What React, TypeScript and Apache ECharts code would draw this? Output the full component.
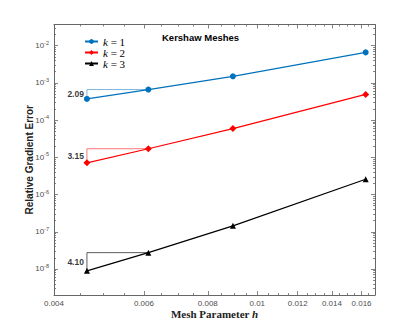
import React, { useEffect, useRef } from "react";
import * as echarts from "echarts";

const hValues = [0.00464, 0.00612, 0.00896, 0.0163];
const errK1 = [3.7e-4, 6.6e-4, 1.5e-3, 6.6e-3];
const errK2 = [7.1e-6, 1.7e-5, 5.9e-5, 4.9e-4];
const errK3 = [8.9e-9, 2.75e-8, 1.44e-7, 2.57e-6];
const rates = ["2.09", "3.15", "4.10"];
const seriesNames = ["k = 1", "k = 2", "k = 3"];
const xMajorTicks = [0.004, 0.006, 0.008, 0.01, 0.012, 0.014, 0.016];
const yMajorTicks = [1e-8, 1e-7, 1e-6, 1e-5, 1e-4, 1e-3, 1e-2];

const xMinorTicks: number[] = [];
for (let i = 8; i <= 34; i++) {
  if (i % 4 !== 0) xMinorTicks.push(+(i * 0.0005).toFixed(4));
}
const yMinorTicks: number[] = [];
for (let p = -9; p <= -2; p++) {
  for (let m = 2; m <= 9; m++) {
    const v = m * Math.pow(10, p);
    if (v >= 2e-9 && v <= 0.037) yMinorTicks.push(v);
  }
}

const X_MIN = 0.004, X_MAX = 0.017, Y_MIN = 2e-9, Y_MAX = 0.037;
const AXIS_COLOR = "#666666";
const LABEL_COLOR = "#4d4d4d";

export default function App() {
  const ref = useRef<HTMLDivElement>(null);
  useEffect(() => {
    if (!ref.current) return;
    const chart = echarts.init(ref.current, undefined, { renderer: "svg" });
    const colors = ["#0072BD", "#FF0000", "#000000"];
    const triColors = ["#5AA0D6", "#FF5050", "#333333"];
    const symbols = ["circle", "diamond", "triangle"];
    const errs = [errK1, errK2, errK3];

    const mkX = (pos: "bottom" | "top", ticks: number[], len: number, labels: boolean, line: boolean, name?: any) => ({
      type: "log",
      position: pos,
      min: X_MIN,
      max: X_MAX,
      logBase: 10,
      axisLine: { show: line, onZero: false, lineStyle: { color: AXIS_COLOR, width: 1 } },
      axisTick: { show: true, inside: true, length: len, customValues: ticks, lineStyle: { color: AXIS_COLOR, width: 0.8 } },
      axisLabel: {
        show: labels,
        customValues: ticks,
        color: LABEL_COLOR,
        fontSize: 8,
        fontFamily: "Liberation Sans",
        margin: 4,
        formatter: (v: number) => String(+(+v).toFixed(4)),
      },
      splitLine: { show: false },
      minorTick: { show: false },
      ...(name || {}),
    });
    const mkY = (pos: "left" | "right", ticks: number[], len: number, labels: boolean, line: boolean, name?: any) => ({
      type: "log",
      position: pos,
      min: Y_MIN,
      max: Y_MAX,
      logBase: 10,
      axisLine: { show: line, onZero: false, lineStyle: { color: AXIS_COLOR, width: 1 } },
      axisTick: { show: true, inside: true, length: len, customValues: ticks, lineStyle: { color: AXIS_COLOR, width: 0.8 } },
      axisLabel: {
        show: labels,
        customValues: ticks,
        color: LABEL_COLOR,
        margin: 5,
        formatter: (v: number) => `{b|10}{s|${Math.round(Math.log10(v))}}`,
        rich: {
          b: { fontSize: 8, fontFamily: "Liberation Sans", color: LABEL_COLOR },
          s: { fontSize: 5.5, fontFamily: "Liberation Sans", color: LABEL_COLOR, padding: [0, 0, 6, 0] },
        },
      },
      splitLine: { show: false },
      minorTick: { show: false },
      ...(name || {}),
    });

    const series: any[] = [];
    errs.forEach((e, i) => {
      series.push({
        name: seriesNames[i],
        type: "line",
        data: hValues.map((h, j) => [h, e[j]]),
        color: colors[i],
        symbol: symbols[i],
        symbolSize: i === 1 ? 7 : 6,
        lineStyle: { width: 1.2, color: colors[i] },
        itemStyle: { color: colors[i] },
        z: 5,
      });
      series.push({
        name: "tri" + i,
        type: "line",
        data: [
          [hValues[0], e[0]],
          [hValues[0], e[1]],
          [hValues[1], e[1]],
        ],
        symbol: "none",
        lineStyle: { width: 0.8, color: triColors[i] },
        z: 3,
      });
      series.push({
        name: "rate" + i,
        type: "scatter",
        data: [[hValues[0], Math.sqrt(e[0] * e[1])]],
        symbolSize: 0,
        label: {
          show: true,
          position: "left",
          distance: 3,
          formatter: () => rates[i],
          fontSize: 8.5,
          fontWeight: "bold",
          fontFamily: "Liberation Sans",
          color: "#000",
        },
        z: 4,
      });
    });

    chart.setOption({
      animation: false,
      grid: { left: 54, right: 40, top: 24.5, bottom: 37 },
      title: {
        text: "Kershaw Meshes",
        left: 162,
        top: 32,
        padding: 0,
        textStyle: { fontSize: 9.5, fontWeight: "bold", fontFamily: "Liberation Sans", color: "#000" },
      },
      legend: {
        data: seriesNames,
        orient: "vertical",
        left: 84,
        top: 36,
        padding: 0,
        itemWidth: 13,
        itemHeight: 6,
        itemGap: 0,
        formatter: (n: string) => `{i|k}{t|${n.slice(1)}}`,
        textStyle: {
          rich: {
            i: { fontFamily: "Liberation Serif", fontStyle: "italic", fontSize: 11, lineHeight: 10, color: "#000" },
            t: { fontFamily: "Liberation Serif", fontSize: 11, lineHeight: 10, color: "#000" },
          },
        },
      },
      xAxis: [
        mkX("bottom", xMajorTicks, 4, true, true, {
          name: "Mesh Parameter {i|h}",
          nameLocation: "middle",
          nameGap: 13,
          nameMoveOverlap: false,
          nameTextStyle: {
            fontFamily: "Liberation Serif",
            fontWeight: "bold",
            fontSize: 11,
            lineHeight: 11,
            color: "#222",
            rich: { i: { fontFamily: "Liberation Serif", fontStyle: "italic", fontSize: 11, lineHeight: 11, color: "#222" } },
          },
        }),
        mkX("bottom", xMinorTicks, 2, false, false),
        mkX("top", xMajorTicks, 4, false, true),
        mkX("top", xMinorTicks, 2, false, false),
      ],
      yAxis: [
        mkY("left", yMajorTicks, 4, true, true, {
          name: "Relative Gradient Error",
          nameLocation: "middle",
          nameGap: 20,
          nameMoveOverlap: false,
          nameTextStyle: { fontFamily: "Liberation Sans", fontWeight: "bold", fontSize: 10, color: "#222" },
        }),
        mkY("left", yMinorTicks, 2, false, false),
        mkY("right", yMajorTicks, 4, false, true),
        mkY("right", yMinorTicks, 2, false, false),
      ],
      series,
    });
    return () => chart.dispose();
  }, []);
  return <div ref={ref} style={{ width: 415, height: 332, margin: -8 }} />;
}
